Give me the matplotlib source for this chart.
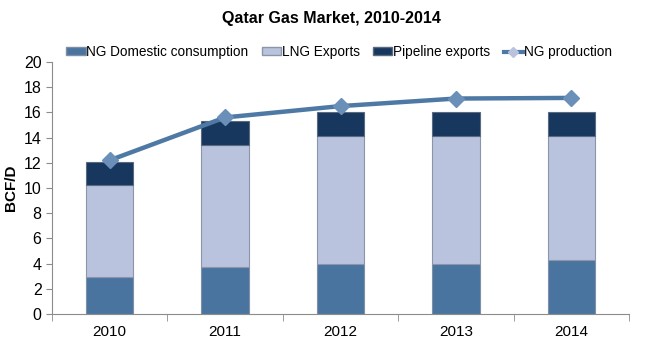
import matplotlib.pyplot as plt
import numpy as np
from matplotlib.lines import Line2D
from matplotlib.patches import Patch

plt.rcParams['font.family'] = ['Liberation Sans', 'DejaVu Sans']

years = ["2010", "2011", "2012", "2013", "2014"]
domestic = [2.9, 3.7, 4.0, 4.0, 4.3]
lng = [7.3, 9.7, 10.1, 10.1, 9.8]
pipeline = [1.9, 1.9, 1.9, 1.9, 1.9]
production = [12.2, 15.6, 16.5, 17.1, 17.15]

c_dom = '#4a74a0'
c_lng = '#b9c3de'
c_pipe = '#17375e'
c_line = '#4f79a5'

fig = plt.figure(figsize=(6.62, 3.56), dpi=100)
ax = fig.add_axes([52/662, 1-314/356, (629-52)/662, (314-62)/356])

x = np.arange(len(years))
w = 0.41
ax.bar(x, domestic, w, color=c_dom, edgecolor='#7f8fa6', linewidth=0.8)
ax.bar(x, lng, w, bottom=domestic, color=c_lng, edgecolor='#8c96a8', linewidth=0.8)
bot2 = np.array(domestic) + np.array(lng)
ax.bar(x, pipeline, w, bottom=bot2, color=c_pipe, edgecolor='#5a6a80', linewidth=0.8)
ax.plot(x, production, color=c_line, lw=3.2, marker='D', markersize=8,
        markerfacecolor='#6a8fb8', markeredgecolor='#6a8fb8', zorder=5)

ax.set_xlim(-0.5, 4.5)
ax.set_ylim(0, 20)
ax.set_yticks(range(0, 21, 2))
ax.set_xticks(x)
ax.set_xticklabels(years)
ax.set_xticks(np.arange(-0.5, 5, 1), minor=True)
ax.tick_params(axis='x', which='major', length=0, pad=8, labelsize=11)
ax.tick_params(axis='x', which='minor', length=5, color='#8c8c8c')
ax.tick_params(axis='y', length=4, color='#8c8c8c', labelsize=11.5)
for s in ['top', 'right']:
    ax.spines[s].set_visible(False)
for s in ['left', 'bottom']:
    ax.spines[s].set_color('#8c8c8c')
ax.set_ylabel("BCF/D", fontsize=11, fontweight='bold', labelpad=4)

fig.text(0.5, 1-19/356, "Qatar Gas Market, 2010-2014", ha='center', va='center',
         fontsize=11.5, fontweight='bold')

handles = [Patch(facecolor=c_dom, edgecolor='#7f8fa6'),
           Patch(facecolor=c_lng, edgecolor='#8c96a8'),
           Patch(facecolor=c_pipe, edgecolor='#5a6a80'),
           Line2D([], [], color=c_line, lw=3, marker='D', markersize=5,
                  markerfacecolor='#b9c3de', markeredgecolor='#b9c3de')]
labels = ["NG Domestic consumption", "LNG Exports", "Pipeline exports", "NG production"]
fig.legend(handles, labels, loc='center', bbox_to_anchor=(339/662, 1-52/356), ncol=4,
           frameon=False, fontsize=9.8, handlelength=1.4, handleheight=0.55,
           handletextpad=0.05, columnspacing=1.0)

fig.savefig('out.png', dpi=100)
